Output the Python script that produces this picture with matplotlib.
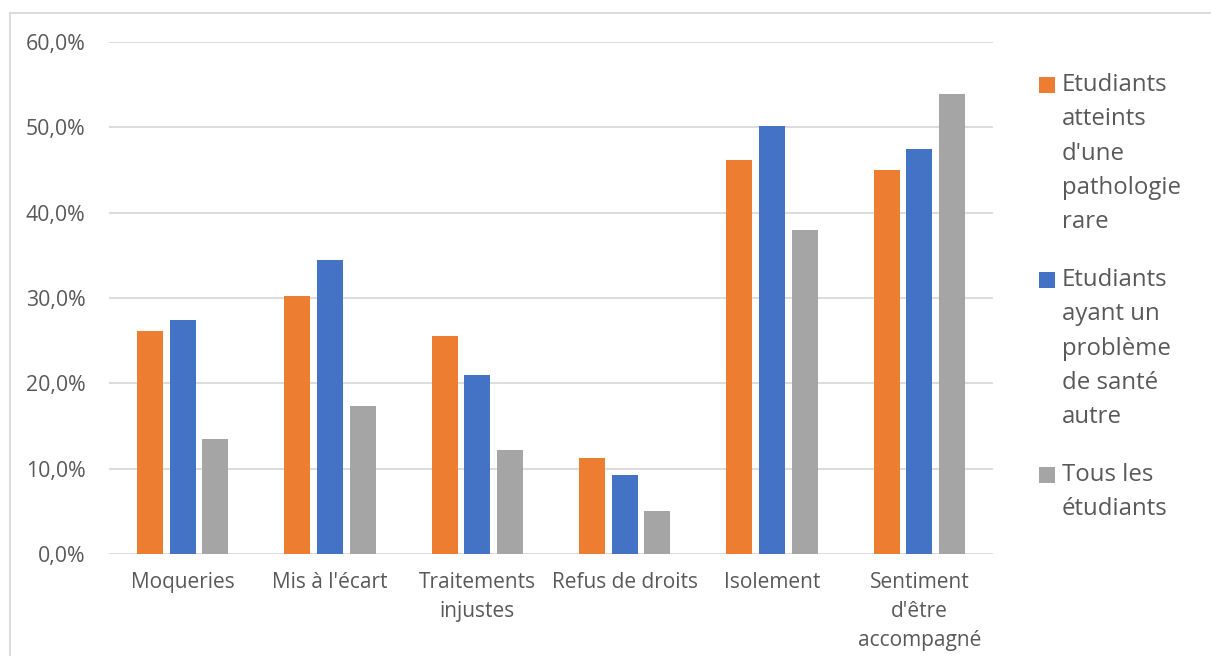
import matplotlib
matplotlib.use("Agg")
import matplotlib.pyplot as plt
import numpy as np
from matplotlib.ticker import FuncFormatter
from matplotlib.patches import Rectangle

categories = ["Moqueries", "Mis à l'écart", "Traitements\ninjustes", "Refus de droits",
              "Isolement", "Sentiment\nd'être\naccompagné"]
series_names = ["Etudiants\natteints\nd'une\npathologie\nrare",
                "Etudiants\nayant un\nproblème\nde santé\nautre",
                "Tous les\nétudiants"]
rare = [0.261, 0.302, 0.255, 0.113, 0.462, 0.450]
autre = [0.274, 0.345, 0.210, 0.093, 0.501, 0.475]
tous = [0.135, 0.173, 0.122, 0.050, 0.380, 0.539]
colors = ["#ED7D31", "#4472C4", "#A5A5A5"]
yticks = [0.0, 0.1, 0.2, 0.3, 0.4, 0.5, 0.6]

plt.rcParams['font.family'] = ['Open Sans', 'DejaVu Sans']
W, H = 1211, 656
fig = plt.figure(figsize=(W / 100, H / 100), dpi=100)
ax = fig.add_axes([109 / W, 1 - 554 / H, (993 - 109) / W, (554 - 42) / H])

x = np.arange(len(categories))
w = 0.177
step = 0.222
for i, (vals, c) in enumerate(zip([rare, autre, tous], colors)):
    ax.bar(x + (i - 1) * step, vals, width=w, color=c, zorder=3)

ax.set_xlim(-0.5, len(categories) - 0.5)
ax.set_ylim(0, 0.6)
ax.set_yticks(yticks)
ax.yaxis.set_major_formatter(FuncFormatter(lambda v, p: f"{v*100:.1f}%".replace('.', ',')))
ax.set_xticks(x)
ax.set_xticklabels(categories, linespacing=1.5)
for s in ax.spines.values():
    s.set_visible(False)
ax.grid(axis='y', color='#D9D9D9', linewidth=1.3, zorder=0)
ax.tick_params(axis='both', length=0, labelcolor='#595959')
ax.tick_params(axis='y', pad=17, labelsize=15.3)
ax.tick_params(axis='x', pad=13, labelsize=15)

# outer chart border
fig.patches.append(Rectangle((10 / W, -0.1), 1.2, 1 - 13 / H + 0.1, transform=fig.transFigure,
                             fill=False, edgecolor='#D9D9D9', linewidth=1.3))

# legend (manual, Excel-style: marker aligned to first line)
entry_tops = [85, 280, 475]
pitch = 34.3
for name, c, y0 in zip(series_names, colors, entry_tops):
    fig.patches.append(Rectangle((1039 / W, 1 - (y0 + 8) / H), 16 / W, 16 / H,
                                 transform=fig.transFigure, facecolor=c, edgecolor='none'))
    for k, line in enumerate(name.split("\n")):
        fig.text(1062 / W, 1 - (y0 + k * pitch) / H, line, fontsize=17.3, color='#595959',
                 va='center', ha='left')

fig.savefig("out.png", dpi=100)
